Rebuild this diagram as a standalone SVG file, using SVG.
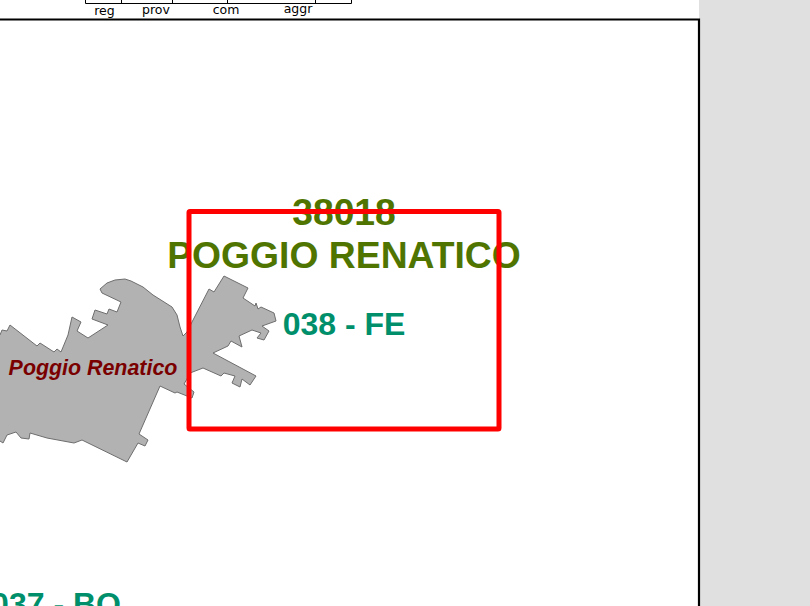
<svg xmlns="http://www.w3.org/2000/svg" width="810" height="606" viewBox="0 0 810 606">
<style>
.h{font-family:"DejaVu Sans",sans-serif;font-size:12.500px;fill:#000;text-anchor:middle}
.b{font-family:"Liberation Sans",Arial,sans-serif;font-weight:bold;text-anchor:middle}
.olive{fill:#4f7500;font-size:37.300px}
.green{fill:#008f6b;font-size:32px}
</style>
<rect width="810" height="606" fill="#fff"/>
<rect x="699" y="0" width="111" height="606" fill="#e0e0e0"/>
<g id="legend" fill="none" stroke="#000" stroke-width="1">
<path d="M85.5 0V3.5H351.5V0M121.500 0V3.500M172.500 0V3.500M227.500 0V3.500M315.500 0V3.500"/>
</g>
<text class="h" x="104.500" y="15">reg</text>
<text class="h" x="156" y="14">prov</text>
<text class="h" x="226" y="14">com</text>
<text class="h" x="298" y="13">aggr</text>
<path id="frame" d="M0 19.500H699V606" fill="none" stroke="#000" stroke-width="2.200"/>
<g id="poggio-renatico">
<path fill="#b2b2b2" stroke="#6e6e6e" stroke-width="1" stroke-linejoin="round" d="M125 279L131 281L143 287L153 295L172 307L177 315L180 327L183 336L187 332L192 322L209 289L214 292L224 276L248 288L243 298L255 306L256 303L258 309L261 307L274 313L276 321L262 326L269 331L264 340L257 338L261 333L252 330L239 336L242 347L231 341L228 346L213 353L256 376L250 385L242 379L240 387L232 383L235 376L224 373L221 376L203 368L190 373L187 379L184 384L194 392L192 398L177 392L175 393L160 386L139 434L148 440L145 446L138 443L127 462L82 440L74 443L47 438L30 433L29 439L21 438L16 432L7 435L3 443L0 441L-5 441L-5 333L0 335L2 330L7 331L10 325L37 346L40 343L54 352L57 349L61 352L68 335L72 317L81 322L77 331L88 338L108 325L92 319L95 310L107 314L109 309L117 312L121 302L102 293L100 289L107 283L115 280Z"/>
<text x="93" y="375" font-family="'Liberation Sans',Arial,sans-serif" font-weight="bold" font-style="italic" font-size="21.400px" fill="#7a0000" text-anchor="middle">Poggio Renatico</text>
</g>
<g id="labels">
<text class="b olive" x="344" y="225">38018</text>
<text class="b olive" x="344" y="268">POGGIO RENATICO</text>
<text class="b green" x="344" y="335">038 - FE</text>
<text class="b green" x="56" y="615">037 - BO</text>
</g>
<rect id="highlight" x="189" y="211.500" width="310" height="217.500" rx="1" fill="none" stroke="#ff0000" stroke-width="5"/>
</svg>
